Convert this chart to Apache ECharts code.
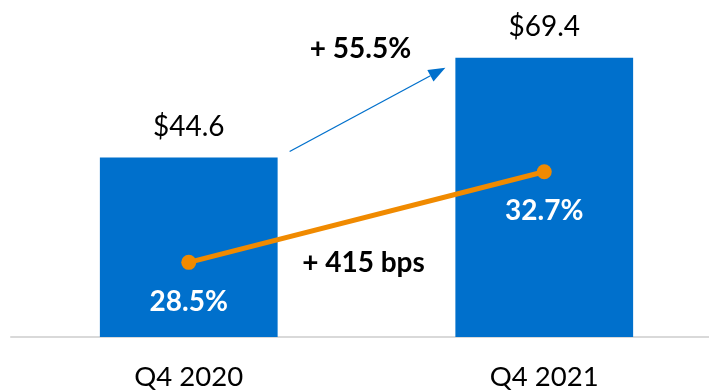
<!DOCTYPE html>
<html>
<head>
<meta charset="utf-8">
<script src="https://cdn.jsdelivr.net/npm/echarts@6/dist/echarts.min.js"></script>
<style>
  html, body { margin: 0; padding: 0; background: #ffffff; }
  #chart { width: 709px; height: 391px; }
</style>
</head>
<body>
<div id="chart"></div>
<script>
// Quarterly revenue ($) and margin (%) for Q4 2020 vs Q4 2021
const categories = ['Q4 2020', 'Q4 2021'];
const revenue = [44.6, 69.4];
const margin = [28.5, 32.7];
const growthLabel = '+ 55.5%';
const marginChangeLabel = '+ 415 bps';

const BLUE = '#0070CC';
const ORANGE = '#F08A00';
const FONT = 'Lato, "Open Sans", sans-serif';

const chart = echarts.init(document.getElementById('chart'), null, { renderer: 'canvas' });

chart.setOption({
  animation: false,
  backgroundColor: '#ffffff',
  grid: { left: 11, top: 0, width: 711, height: 337, outerBoundsMode: 'none', containLabel: false },
  xAxis: {
    type: 'category',
    data: categories,
    axisLine: { show: true, lineStyle: { color: '#D9D9D9', width: 2 } },
    axisTick: { show: false },
    axisLabel: { color: '#000000', fontFamily: FONT, fontSize: 27.5, margin: 26 }
  },
  yAxis: [
    { type: 'value', min: 0, max: 83.73, show: false, splitLine: { show: false } },
    { type: 'value', min: 25.04, max: 40.66, show: false, splitLine: { show: false } }
  ],
  series: [
    {
      type: 'bar',
      data: revenue,
      barWidth: '50%',
      itemStyle: { color: BLUE },
      label: {
        show: true,
        position: 'top',
        distance: 17,
        color: '#000000',
        fontFamily: FONT,
        fontSize: 28,
        formatter: p => '$' + p.value.toFixed(1)
      }
    },
    {
      type: 'line',
      yAxisIndex: 1,
      data: margin,
      symbol: 'circle',
      symbolSize: 15,
      lineStyle: { color: ORANGE, width: 5 },
      itemStyle: { color: ORANGE },
      label: {
        show: true,
        position: 'bottom',
        distance: 18,
        color: '#ffffff',
        fontFamily: FONT,
        fontWeight: 'bold',
        fontSize: 28,
        formatter: p => p.value.toFixed(1) + '%'
      }
    }
  ]
});

// Annotations placed relative to the bars and margin points
function placeAnnotations() {
  const p0 = chart.convertToPixel({ seriesIndex: 0 }, [0, revenue[0]]);
  const p1 = chart.convertToPixel({ seriesIndex: 0 }, [1, revenue[1]]);
  const m0 = chart.convertToPixel({ seriesIndex: 1 }, [0, margin[0]]);
  const bandW = p1[0] - p0[0];
  const barHalf = bandW / 4;
  const midX = (p0[0] + p1[0]) / 2;

  const x1 = p0[0] + barHalf + 12, y1 = p0[1] - 6;
  const x2 = p1[0] - barHalf - 10, y2 = p1[1] + 10;
  const ang = Math.atan2(y2 - y1, x2 - x1);
  const L = 17, W = 6.5;
  const bx = x2 - L * Math.cos(ang), by = y2 - L * Math.sin(ang);
  const nx = -Math.sin(ang), ny = Math.cos(ang);

  chart.setOption({
    graphic: [
      {
        type: 'line',
        shape: { x1: x1, y1: y1, x2: bx, y2: by },
        style: { stroke: BLUE, lineWidth: 1.3 }
      },
      {
        type: 'polygon',
        shape: { points: [[x2, y2], [bx + nx * W, by + ny * W], [bx - nx * W, by - ny * W]] },
        style: { fill: BLUE }
      },
      {
        type: 'text',
        x: midX - 6, y: 49,
        style: {
          text: growthLabel, fill: '#000000', font: 'bold 28px ' + FONT,
          align: 'center', verticalAlign: 'middle'
        }
      },
      {
        type: 'text',
        x: midX - 3, y: m0[1] + 1,
        style: {
          text: marginChangeLabel, fill: '#000000', font: 'bold 28px ' + FONT,
          align: 'center', verticalAlign: 'middle'
        }
      }
    ]
  });
}
placeAnnotations();
</script>
</body>
</html>
